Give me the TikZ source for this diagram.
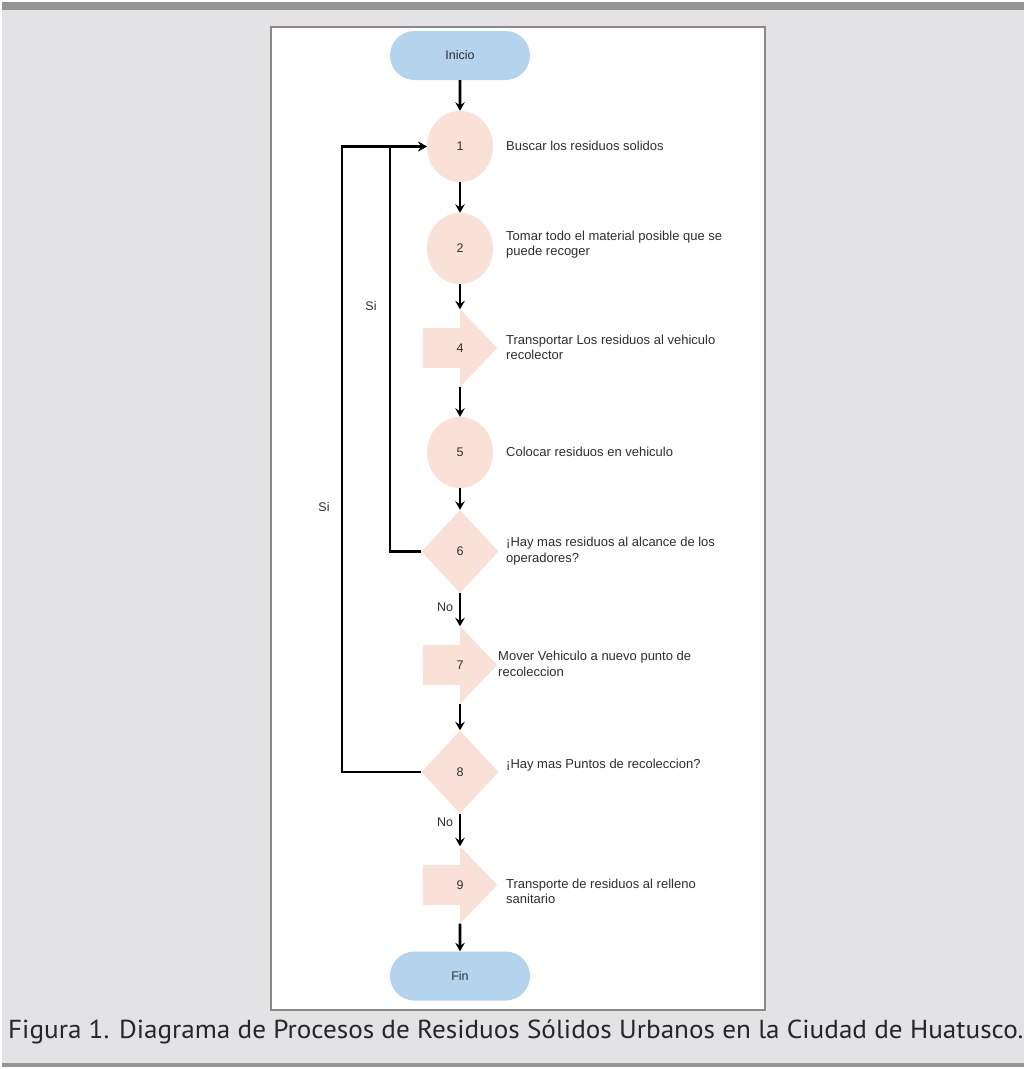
\documentclass[tikz,border=0pt]{standalone}
\usepackage{fontspec}
\newfontfamily\chartfont{Liberation Sans}
\newfontfamily\capfont{PT Sans}
\usetikzlibrary{shapes.geometric,shapes.misc,arrows.meta,backgrounds}

\definecolor{pagegray}{HTML}{E3E3E5}
\definecolor{bargray}{HTML}{959595}
\definecolor{framegray}{HTML}{8C8886}
\definecolor{termblue}{HTML}{B4D4ED}
\definecolor{stepfill}{HTML}{FAE1D8}
\definecolor{txt}{HTML}{2E2E2E}

\tikzset{
  terminal/.style={rounded rectangle, fill=termblue, minimum width=140pt,
    minimum height=49pt, inner sep=0pt, font=\chartfont\fontsize{12.5}{14}\selectfont, text=txt},
  oper/.style={ellipse, fill=stepfill, minimum width=66pt, minimum height=71pt,
    inner sep=0pt, font=\chartfont\fontsize{12.5}{14}\selectfont, text=txt},
  decision/.style={diamond, fill=stepfill, minimum width=77pt, minimum height=83pt,
    inner sep=0pt, font=\chartfont\fontsize{12.5}{14}\selectfont, text=txt},
  movebox/.style={rectangle, minimum width=74pt, minimum height=77pt,
    inner sep=0pt, font=\chartfont\fontsize{12.5}{14}\selectfont, text=txt},
  desc/.style={anchor=west, align=left, inner sep=0pt,
    font=\chartfont\fontsize{13}{15.5}\selectfont, text=txt},
  tag/.style={inner sep=0pt, font=\chartfont\fontsize{12.5}{14}\selectfont, text=txt},
  flow/.style={line width=2.6pt, -{Stealth[length=8.5pt,width=9.5pt,inset=3pt]}},
}

% pentagon arrow behind a movebox node
\newcommand{\movearrow}[1]{%
  \fill[stepfill] ([yshift=20pt]#1.west) -- ([yshift=20pt]#1.center) -- (#1.north)
    -- (#1.east) -- (#1.south) -- ([yshift=-20pt]#1.center)
    -- ([yshift=-20pt]#1.west) -- cycle;}

\begin{document}
\begin{tikzpicture}[x=1pt,y=-1pt]
\useasboundingbox (0,0) rectangle (1024,1069);

% page band and frame
\begin{scope}[on background layer]
  \fill[white] (0,0) rectangle (1024,1069);
  \fill[pagegray] (2,2) rectangle (1024,1067);
  \fill[bargray] (2,2) rectangle (1024,10);
  \fill[bargray] (2,1063) rectangle (1024,1067);
  \draw[framegray, line width=2pt, fill=white] (271,27) rectangle (765,1010);
\end{scope}

% nodes
\node[terminal] (ini) at (460,55.5) {Inicio};
\node[oper] (c1) at (460,146.5) {1};
\node[oper] (c2) at (460,248.5) {2};
\node[movebox] (n4) at (460,348) {4};
\node[oper] (c5) at (460,452.5) {5};
\node[decision] (d6) at (460,551.5) {6};
\node[movebox] (n7) at (460,665) {7};
\node[decision] (d8) at (460,772) {8};
\node[movebox] (n9) at (460,885) {9};
\node[terminal] (fin) at (460,976) {Fin};

\begin{scope}[on background layer]
  \movearrow{n4}
  \movearrow{n7}
  \movearrow{n9}
\end{scope}

% descriptions
\node[desc] (t1) at (506,146) {Buscar los residuos solidos};
\node[desc] (t2) at (506,244.5) {Tomar todo el material posible que se\\puede recoger};
\node[desc] (t4) at (506,347.5) {Transportar Los residuos al vehiculo\\recolector};
\node[desc] (t5) at (506,452) {Colocar residuos en vehiculo};
\node[desc] (t6) at (506,551) {¡Hay mas residuos al alcance de los\\operadores?};
\node[desc] (t7) at (498,664) {Mover Vehiculo a nuevo punto de\\recoleccion};
\node[desc] (t8) at (506,765) {¡Hay mas Puntos de recoleccion?};
\node[desc] (t9) at (506,891.5) {Transporte de residuos al relleno\\sanitario};

% main flow
\draw[flow] (ini) -- (c1);
\draw[flow] (c1) -- (c2);
\draw[flow] (c2) -- (n4.north);
\draw[flow] (n4.south) -- (c5);
\draw[flow] (c5) -- (d6);
\draw[flow] (d6) -- (n7.north);
\draw[flow] (n7.south) -- (d8);
\draw[flow] (d8) -- (n9.north);
\draw[flow] (n9.south) -- (fin);

% return loops
\coordinate (k6) at (390,551.5);
\coordinate (k8) at (342,772);
\draw[flow] (d6.west) -- (k6) |- (c1.west);
\draw[flow] (d8.west) -- (k8) |- (c1.west);

% branch labels
\node[tag] (si1) at (371,306) {Si};
\node[tag] (si2) at (324,507) {Si};
\node[tag] (no1) at (445,607) {No};
\node[tag] (no2) at (445,822) {No};

% caption
\node[anchor=base west, inner sep=0pt, text=black!85,
  font=\capfont\fontsize{26}{28}\selectfont] (cap) at (8,1038)
  {\scalebox{1.045}[1]{Figura 1. Diagrama de Procesos de Residuos Sólidos Urbanos en la Ciudad de Huatusco.}};
\end{tikzpicture}
\end{document}
